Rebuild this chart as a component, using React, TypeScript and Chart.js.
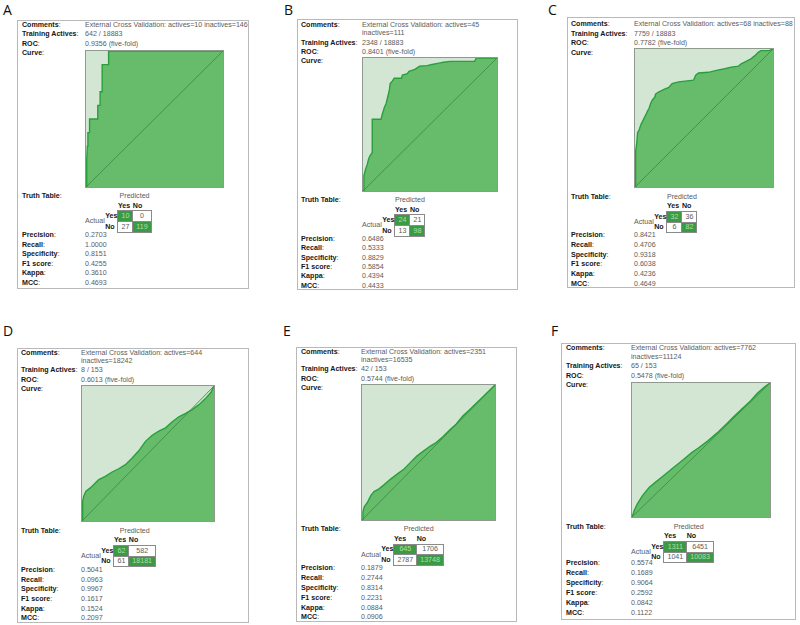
import React, { useEffect, useRef } from "react";
import { Chart, registerables } from "chart.js";
Chart.register(...registerables);

// ---------------- DATA ----------------
const panelLetters = ["A", "B", "C", "D", "E", "F"];
const comments = [
  ["External Cross Validation: actives=10 inactives=146"],
  ["External Cross Validation: actives=45", "inactives=111"],
  ["External Cross Validation: actives=68 inactives=88"],
  ["External Cross Validation: actives=644", "inactives=18242"],
  ["External Cross Validation: actives=2351", "inactives=16535"],
  ["External Cross Validation: actives=7762", "inactives=11124"],
];
const trainingActives = ["642 / 18883", "2348 / 18883", "7759 / 18883", "8 / 153", "42 / 153", "65 / 153"];
const rocValues = ["0.9356", "0.8401", "0.7782", "0.6013", "0.5744", "0.5478"];
const rocNote = "(five-fold)";

const truthTP = [10, 24, 32, 62, 645, 1311];
const truthFN = [0, 21, 36, 582, 1706, 6451];
const truthFP = [27, 13, 6, 61, 2787, 1041];
const truthTN = [119, 98, 82, 18181, 13748, 10083];

const metricLabels = ["Precision", "Recall", "Specificity", "F1 score", "Kappa", "MCC"];
const precision = ["0.2703", "0.6486", "0.8421", "0.5041", "0.1879", "0.5574"];
const recall = ["1.0000", "0.5333", "0.4706", "0.0963", "0.2744", "0.1689"];
const specificity = ["0.8151", "0.8829", "0.9318", "0.9967", "0.8314", "0.9064"];
const f1Score = ["0.4255", "0.5854", "0.6038", "0.1617", "0.2231", "0.2592"];
const kappa = ["0.3610", "0.4394", "0.4236", "0.1524", "0.0884", "0.0842"];
const mcc = ["0.4693", "0.4433", "0.4649", "0.2097", "0.0906", "0.1122"];

// ROC curves (false positive rate, true positive rate)
const rocA_fpr = [0, 0.005, 0.01, 0.014, 0.026, 0.026, 0.086, 0.086, 0.103, 0.103, 0.118, 0.118, 0.165, 0.165, 1];
const rocA_tpr = [0, 0.2, 0.3, 0.4, 0.4, 0.5, 0.5, 0.6, 0.6, 0.7, 0.7, 0.9, 0.9, 1, 1];

const rocB_fpr = [0, 0.007, 0.02, 0.032, 0.042, 0.051, 0.069, 0.069, 0.135, 0.142, 0.16, 0.172, 0.184, 0.196, 0.203, 0.22, 0.233, 0.287, 0.294, 0.331, 0.343, 0.387, 0.404, 0.422, 0.478, 0.515, 0.576, 0.6, 0.65, 0.833, 0.846, 1];
const rocB_tpr = [0, 0.115, 0.165, 0.2, 0.24, 0.263, 0.29, 0.54, 0.54, 0.57, 0.63, 0.656, 0.705, 0.754, 0.808, 0.828, 0.848, 0.848, 0.872, 0.882, 0.9, 0.914, 0.926, 0.939, 0.943, 0.951, 0.963, 0.968, 0.975, 0.975, 1, 1];

const rocC_fpr = [0, 0.005, 0.012, 0.019, 0.031, 0.043, 0.055, 0.079, 0.09, 0.102, 0.114, 0.126, 0.143, 0.15, 0.174, 0.21, 0.245, 0.269, 0.317, 0.424, 0.44, 0.46, 0.531, 0.59, 0.65, 0.698, 0.75, 0.769, 0.805, 0.84, 0.869, 0.893, 0.912, 0.971, 1];
const rocC_tpr = [0, 0.262, 0.31, 0.393, 0.417, 0.452, 0.476, 0.524, 0.548, 0.571, 0.607, 0.631, 0.65, 0.674, 0.69, 0.707, 0.721, 0.75, 0.762, 0.774, 0.81, 0.826, 0.831, 0.845, 0.857, 0.869, 0.876, 0.893, 0.91, 0.929, 0.952, 0.976, 0.988, 0.988, 1];

const rocD_fpr = [0, 0.005, 0.013, 0.03, 0.063, 0.101, 0.127, 0.177, 0.228, 0.278, 0.329, 0.38, 0.43, 0.481, 0.532, 0.582, 0.633, 0.684, 0.734, 0.785, 0.835, 0.886, 0.937, 0.975, 1];
const rocD_tpr = [0, 0.147, 0.184, 0.22, 0.245, 0.282, 0.306, 0.331, 0.363, 0.387, 0.417, 0.466, 0.52, 0.59, 0.635, 0.665, 0.69, 0.735, 0.772, 0.797, 0.825, 0.862, 0.91, 0.95, 1];

const rocE_fpr = [0, 0.007, 0.017, 0.042, 0.067, 0.091, 0.128, 0.165, 0.215, 0.264, 0.314, 0.363, 0.412, 0.462, 0.511, 0.56, 0.61, 0.659, 0.709, 0.758, 0.807, 0.857, 0.906, 0.956, 1];
const rocE_tpr = [0, 0.061, 0.097, 0.133, 0.182, 0.211, 0.231, 0.26, 0.303, 0.34, 0.376, 0.425, 0.473, 0.51, 0.546, 0.575, 0.619, 0.667, 0.711, 0.77, 0.815, 0.862, 0.91, 0.958, 1];

const rocF_fpr = [0, 0.017, 0.04, 0.076, 0.124, 0.171, 0.219, 0.29, 0.362, 0.433, 0.481, 0.552, 0.624, 0.69, 0.74, 0.79, 0.86, 0.91, 0.96, 1];
const rocF_tpr = [0, 0.05, 0.1, 0.16, 0.22, 0.26, 0.3, 0.36, 0.42, 0.48, 0.515, 0.57, 0.635, 0.7, 0.752, 0.8, 0.868, 0.925, 0.97, 1];

const rocFpr = [rocA_fpr, rocB_fpr, rocC_fpr, rocD_fpr, rocE_fpr, rocF_fpr];
const rocTpr = [rocA_tpr, rocB_tpr, rocC_tpr, rocD_tpr, rocE_tpr, rocF_tpr];

// ---------------- STYLE / LAYOUT ----------------
const FONT = '"Liberation Sans", Arial, Helvetica, sans-serif';
const FS = 7.1;
const LABEL_COLOR = "#161616";
const VALUE_COLOR = "#5c5c5c";
const FILL_UNDER = "#67bc6b";
const FILL_ABOVE = "#d3e5d3";
const CURVE_COLOR = "#28a03a";
const DIAG_COLOR = "#3b8e43";
const CELL_GREEN = "#3c9a46";
const CELL_GREEN_TEXT = "#a9e0a3";

type Layout = {
  letter: [number, number];
  box: [number, number, number, number];
  labelX: number;
  valueX: number;
  top: number;
  rowH: number;
  plot: [number, number, number, number];
  truthY: number;
  metricY: number;
  metricH: number;
};

const LAYOUT: Layout[] = [
  { letter: [3, 5], box: [17, 20, 232, 269], labelX: 22, valueX: 85, top: 25, rowH: 9.4, plot: [85, 50, 139, 138], truthY: 196, metricY: 235, metricH: 9.5 },
  { letter: [284, 5], box: [297, 19, 221, 271], labelX: 301, valueX: 362, top: 25, rowH: 9.3, plot: [362, 57, 136, 135], truthY: 200, metricY: 238.7, metricH: 9.4 },
  { letter: [548, 5], box: [567, 17, 228, 271], labelX: 571, valueX: 634, top: 24, rowH: 9.5, plot: [634, 48, 140, 140], truthY: 196.7, metricY: 235, metricH: 9.8 },
  { letter: [3, 326.5], box: [17, 348, 232, 275], labelX: 21, valueX: 81, top: 352.7, rowH: 9.4, plot: [81, 385, 134, 137], truthY: 530.7, metricY: 570, metricH: 9.65 },
  { letter: [283, 326.5], box: [296, 347, 221, 275], labelX: 301, valueX: 361, top: 351.7, rowH: 9.4, plot: [361, 384, 135, 137], truthY: 529.3, metricY: 568.3, metricH: 9.8 },
  { letter: [551, 326.5], box: [561, 343, 235, 277], labelX: 566, valueX: 631, top: 348.3, rowH: 9.5, plot: [631, 382, 140, 136], truthY: 526.7, metricY: 563.3, metricH: 10 },
];

// ---------------- COMPONENTS ----------------
function RocChart({ fpr, tpr, w, h }: { fpr: number[]; tpr: number[]; w: number; h: number }) {
  const ref = useRef<HTMLCanvasElement>(null);
  useEffect(() => {
    const canvas = ref.current;
    if (!canvas) return;
    const chart = new Chart(canvas, {
      type: "line",
      data: {
        datasets: [
          {
            data: [{ x: 0, y: 0 }, { x: 1, y: 1 }],
            borderColor: DIAG_COLOR,
            borderWidth: 0.9,
            pointRadius: 0,
            fill: false,
            order: 0,
          },
          {
            data: fpr.map((x, i) => ({ x, y: tpr[i] })),
            borderColor: CURVE_COLOR,
            backgroundColor: FILL_UNDER,
            borderWidth: 1.4,
            pointRadius: 0,
            tension: 0,
            fill: "origin",
            order: 1,
          },
        ],
      },
      options: {
        animation: false,
        responsive: false,
        maintainAspectRatio: false,
        events: [],
        layout: { padding: 0 },
        plugins: { legend: { display: false }, tooltip: { enabled: false } },
        scales: {
          x: { type: "linear", min: 0, max: 1, display: false },
          y: { type: "linear", min: 0, max: 1, display: false },
        },
      } as any,
    } as any);
    return () => chart.destroy();
  }, [fpr, tpr, w, h]);
  return <canvas ref={ref} width={w} height={h} style={{ display: "block", width: w, height: h }} />;
}

function Txt({ x, cy, children, bold, color }: { x: number; cy: number; children: any; bold?: boolean; color?: string }) {
  return (
    <div
      style={{
        position: "absolute",
        left: x,
        top: cy - 5,
        height: 10,
        lineHeight: "10px",
        fontSize: FS,
        fontFamily: FONT,
        fontWeight: bold ? 700 : 400,
        color: color || (bold ? LABEL_COLOR : VALUE_COLOR),
        whiteSpace: "nowrap",
      }}
    >
      {children}
    </div>
  );
}

function Label({ x, cy, text }: { x: number; cy: number; text: string }) {
  return (
    <Txt x={x} cy={cy} bold>
      {text}
      <span style={{ fontWeight: 400, color: "#333" }}>:</span>
    </Txt>
  );
}

function TruthTable({ x, cy, i }: { x: number; cy: number; i: number }) {
  const rowH = 9.6;
  const base: React.CSSProperties = {
    fontSize: FS,
    fontFamily: FONT,
    lineHeight: "8px",
    padding: 0,
    height: rowH,
    whiteSpace: "nowrap",
  };
  const cell = (v: number, green: boolean): React.CSSProperties => ({
    ...base,
    padding: "0 3px",
    textAlign: "center",
    border: "1px solid #8a8a8a",
    background: green ? CELL_GREEN : "#ffffff",
    color: green ? CELL_GREEN_TEXT : VALUE_COLOR,
  });
  const boldS: React.CSSProperties = { ...base, fontWeight: 700, color: LABEL_COLOR, textAlign: "left" };
  return (
    <table
      style={{
        position: "absolute",
        left: x,
        top: cy - rowH / 2,
        borderCollapse: "collapse",
        borderSpacing: 0,
      }}
    >
      <tbody>
        <tr style={{ height: rowH }}>
          <td style={base}></td>
          <td style={base}></td>
          <td colSpan={2} style={{ ...base, textAlign: "center", color: VALUE_COLOR }}>
            Predicted
          </td>
        </tr>
        <tr style={{ height: rowH }}>
          <td style={base}></td>
          <td style={base}></td>
          <td style={boldS}>Yes</td>
          <td style={boldS}>No</td>
        </tr>
        <tr style={{ height: rowH }}>
          <td rowSpan={2} style={{ ...base, color: VALUE_COLOR, verticalAlign: "middle", paddingRight: 0.5 }}>
            Actual
          </td>
          <td style={boldS}>Yes</td>
          <td style={cell(truthTP[i], true)}>{truthTP[i]}</td>
          <td style={cell(truthFN[i], false)}>{truthFN[i]}</td>
        </tr>
        <tr style={{ height: rowH }}>
          <td style={boldS}>No</td>
          <td style={cell(truthFP[i], false)}>{truthFP[i]}</td>
          <td style={cell(truthTN[i], true)}>{truthTN[i]}</td>
        </tr>
      </tbody>
    </table>
  );
}

function Panel({ i }: { i: number }) {
  const L = LAYOUT[i];
  const [bx, by, bw, bh] = L.box;
  const [px, py, pw, ph] = L.plot;
  const lines = comments[i];
  const commentStep = 8.3;
  const trainingY = L.top + (lines.length - 1) * commentStep + L.rowH;
  const rocY = trainingY + L.rowH;
  const curveY = rocY + L.rowH;
  const metricVals = [precision[i], recall[i], specificity[i], f1Score[i], kappa[i], mcc[i]];
  return (
    <>
      <div
        style={{
          position: "absolute",
          left: L.letter[0],
          top: L.letter[1] - 2.5,
          fontFamily: '"Open Sans", "Noto Sans", sans-serif',
          fontSize: 14,
          lineHeight: "14px",
          color: "#111",
        }}
      >
        {panelLetters[i]}
      </div>
      <div
        style={{
          position: "absolute",
          left: bx,
          top: by,
          width: bw,
          height: bh,
          boxSizing: "border-box",
          border: "1px solid #b9b9b9",
          background: "#fff",
        }}
      />
      <Label x={L.labelX} cy={L.top} text="Comments" />
      {lines.map((ln, k) => (
        <Txt key={k} x={L.valueX} cy={L.top + k * commentStep}>
          {ln}
        </Txt>
      ))}
      <Label x={L.labelX} cy={trainingY} text="Training Actives" />
      <Txt x={L.valueX} cy={trainingY}>{trainingActives[i]}</Txt>
      <Label x={L.labelX} cy={rocY} text="ROC" />
      <Txt x={L.valueX} cy={rocY}>{rocValues[i] + " " + rocNote}</Txt>
      <Label x={L.labelX} cy={curveY} text="Curve" />
      <div
        style={{
          position: "absolute",
          left: px,
          top: py,
          width: pw,
          height: ph,
          boxSizing: "border-box",
          border: "1px solid #8e9a8e",
          background: FILL_ABOVE,
        }}
      >
        <RocChart fpr={rocFpr[i]} tpr={rocTpr[i]} w={pw - 2} h={ph - 2} />
      </div>
      <Label x={L.labelX} cy={L.truthY} text="Truth Table" />
      <TruthTable x={L.valueX} cy={L.truthY} i={i} />
      {metricLabels.map((m, k) => (
        <React.Fragment key={m}>
          <Label x={L.labelX} cy={L.metricY + k * L.metricH} text={m} />
          <Txt x={L.valueX} cy={L.metricY + k * L.metricH}>{metricVals[k]}</Txt>
        </React.Fragment>
      ))}
    </>
  );
}

export default function App() {
  return (
    <div style={{ position: "absolute", left: 0, top: 0, width: 800, height: 625, background: "#fff", overflow: "hidden" }}>
      {panelLetters.map((_, i) => (
        <Panel key={i} i={i} />
      ))}
    </div>
  );
}
